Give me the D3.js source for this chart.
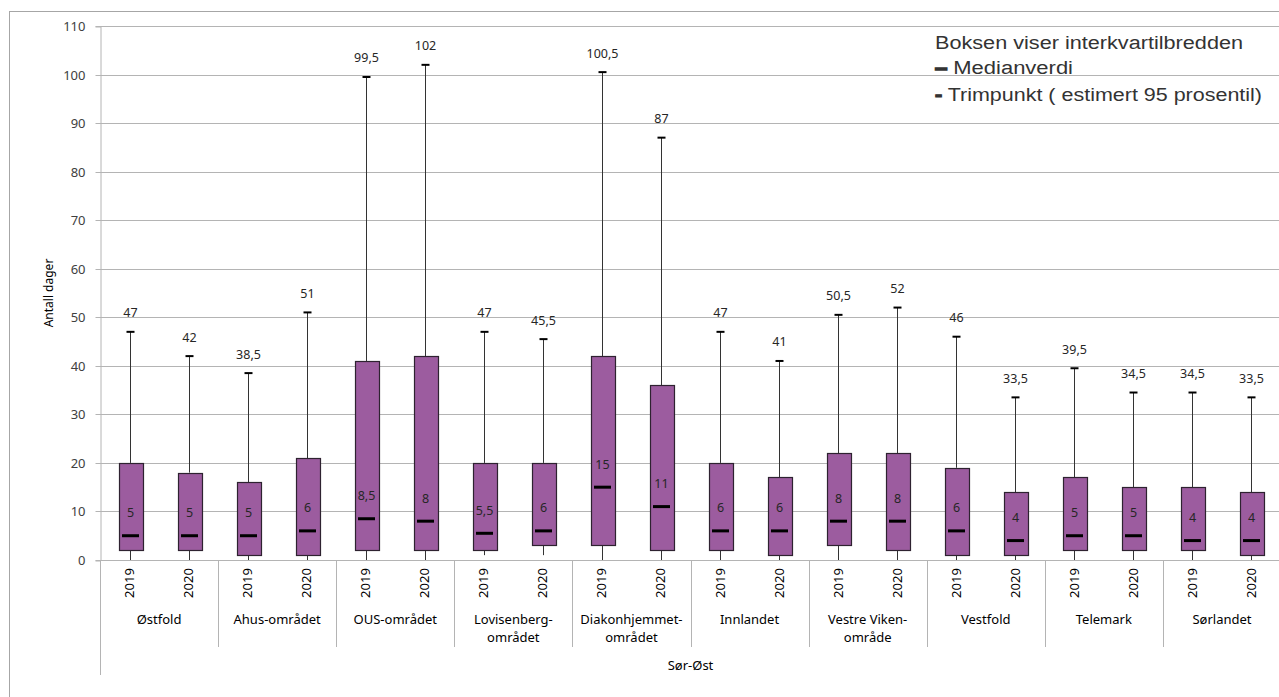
<!DOCTYPE html>
<html>
<head>
<meta charset="utf-8">
<script src="https://cdn.jsdelivr.net/npm/d3@7/dist/d3.min.js"></script>
<style>
  html, body { margin: 0; padding: 0; background: #fff; }
  svg { display: block; }
</style>
</head>
<body>
<svg id="chart" width="1279" height="697"></svg>
<script>
// ---- Data ----
const groupLabels = [
  ["Østfold"], ["Ahus-området"], ["OUS-området"], ["Lovisenberg-", "området"],
  ["Diakonhjemmet-", "området"], ["Innlandet"], ["Vestre Viken-", "område"],
  ["Vestfold"], ["Telemark"], ["Sørlandet"]
];
const years = ["2019", "2020"];
const q1Values     = [2, 2, 1, 1, 2, 2, 2, 3, 3, 2, 2, 1, 3, 2, 1, 1, 2, 2, 2, 1];
const q3Values     = [20, 18, 16, 21, 41, 42, 20, 20, 42, 36, 20, 17, 22, 22, 19, 14, 17, 15, 15, 14];
const medianValues = [5, 5, 5, 6, 8.5, 8, 5.5, 6, 15, 11, 6, 6, 8, 8, 6, 4, 5, 5, 4, 4];
const maxValues    = [47, 42, 38.5, 51, 99.5, 102, 47, 45.5, 100.5, 87, 47, 41, 50.5, 52, 46, 33.5, 39.5, 34.5, 34.5, 33.5];
const minValues    = [0, 0, 0, 0, 0, 0, 1, 1, 0, 0, 0, 0, 0, 0, 0, 0, 0, 0, 0, 0];
const yTicks = [0, 10, 20, 30, 40, 50, 60, 70, 80, 90, 100, 110];
const yTitle = "Antall dager";
const xTitle = "Sør-Øst";
const legendLines = ["Boksen viser interkvartilbredden", "Medianverdi", "Trimpunkt ( estimert 95 prosentil)"];

// ---- Build rows ----
const rows = [];
groupLabels.forEach((g, gi) => {
  years.forEach((yr, yi) => {
    const i = gi * 2 + yi;
    rows.push({ key: gi + "_" + yr, group: gi, year: yr, q1: q1Values[i], q3: q3Values[i],
      med: medianValues[i], max: maxValues[i], min: minValues[i] });
  });
});

const fmt = v => String(v).replace(".", ",");

const svg = d3.select("#chart");
const pLeft = 100, pRight = 1281, pTop = 26, pBottom = 560;

// outer chart border
svg.append("rect").attr("x", 9.5).attr("y", 11.5).attr("width", 1300).attr("height", 720)
  .attr("fill", "none").attr("stroke", "#a6a6a6").attr("stroke-width", 1);

const y = d3.scaleLinear().domain([0, 110]).range([pBottom, pTop]);
const x = d3.scaleBand().domain(rows.map(r => r.key)).range([pLeft, pRight]).padding(0);
const xg = d3.scaleBand().domain(groupLabels.map((g, i) => i)).range([pLeft, pRight]).padding(0);

// gridlines
svg.append("g").selectAll("line").data(yTicks.filter(t => t > 0)).join("line")
  .attr("x1", pLeft).attr("x2", pRight)
  .attr("y1", d => Math.round(y(d)) + 0.5).attr("y2", d => Math.round(y(d)) + 0.5)
  .attr("stroke", "#b4b4b4").attr("stroke-width", 1);

// y axis
const yAxis = svg.append("g").attr("transform", `translate(${pLeft + 0.5},0.5)`)
  .call(d3.axisLeft(y).tickValues(yTicks).tickSize(5).tickPadding(10).tickFormat(d => d));
yAxis.select(".domain").attr("stroke", "#b4b4b4");
yAxis.selectAll(".tick line").attr("stroke", "#b4b4b4");
yAxis.selectAll(".tick text").attr("font-family", "Noto Sans, sans-serif").attr("font-size", 13)
  .attr("fill", "#404040");
yAxis.selectAll(".tick").attr("transform", d => `translate(0,${Math.round(y(d))})`);

// y title
svg.append("text").attr("transform", `translate(53,293) rotate(-90)`)
  .attr("text-anchor", "middle").attr("font-family", "Noto Sans, sans-serif").attr("font-size", 12)
  .attr("fill", "#000").text(yTitle);

// x axis baseline
svg.append("line").attr("x1", pLeft).attr("x2", pRight).attr("y1", pBottom + 0.5).attr("y2", pBottom + 0.5)
  .attr("stroke", "#b4b4b4");
// left axis extension down
svg.append("line").attr("x1", pLeft + 0.5).attr("x2", pLeft + 0.5).attr("y1", pBottom).attr("y2", 675)
  .attr("stroke", "#b4b4b4");
// group separators
svg.append("g").selectAll("line").data(groupLabels.map((g, i) => i).slice(1)).join("line")
  .attr("x1", d => Math.round(xg(d)) + 0.5).attr("x2", d => Math.round(xg(d)) + 0.5)
  .attr("y1", pBottom).attr("y2", 647).attr("stroke", "#b4b4b4");

// year labels
svg.append("g").selectAll("text").data(rows).join("text")
  .attr("transform", d => `translate(${x(d.key) + x.bandwidth() / 2 + 4.5},583) rotate(-90)`)
  .attr("text-anchor", "middle").attr("font-family", "Noto Sans, sans-serif").attr("font-size", 13)
  .attr("fill", "#000").text(d => d.year);

// group labels
const gl = svg.append("g").selectAll("text").data(groupLabels).join("text")
  .attr("x", (d, i) => xg(i) + xg.bandwidth() / 2).attr("y", 624)
  .attr("text-anchor", "middle").attr("font-family", "Noto Sans, sans-serif").attr("font-size", 13)
  .attr("fill", "#000");
gl.selectAll("tspan").data(d => d).join("tspan")
  .attr("x", function () { return d3.select(this.parentNode).attr("x"); })
  .attr("dy", (d, i) => i === 0 ? 0 : 18).text(d => d);

// x title
svg.append("text").attr("x", (pLeft + pRight) / 2).attr("y", 670).attr("text-anchor", "middle")
  .attr("font-family", "Noto Sans, sans-serif").attr("font-size", 13).attr("fill", "#000").text(xTitle);

// boxes
const bw = x.bandwidth() * 0.4;
const cx = d => Math.round(x(d.key) + x.bandwidth() / 2) + 0.5;
const bx = svg.append("g");
// whiskers
bx.selectAll("line.up").data(rows).join("line").attr("class", "up")
  .attr("x1", cx).attr("x2", cx).attr("y1", d => y(d.q3)).attr("y2", d => y(d.max))
  .attr("stroke", "#333").attr("stroke-width", 1);
bx.selectAll("line.down").data(rows).join("line").attr("class", "down")
  .attr("x1", cx).attr("x2", cx).attr("y1", d => y(d.q1)).attr("y2", d => y(d.min))
  .attr("stroke", "#333").attr("stroke-width", 1);
// caps
bx.selectAll("line.cap").data(rows).join("line").attr("class", "cap")
  .attr("x1", d => cx(d) - 4).attr("x2", d => cx(d) + 4).attr("y1", d => y(d.max)).attr("y2", d => y(d.max))
  .attr("stroke", "#000").attr("stroke-width", 2);
// box rect
bx.selectAll("rect").data(rows).join("rect")
  .attr("x", d => Math.round(cx(d) - bw / 2) + 0.5).attr("width", Math.round(bw))
  .attr("y", d => Math.round(y(d.q3)) + 0.5).attr("height", d => Math.round(y(d.q1)) - Math.round(y(d.q3)))
  .attr("fill", "#9c5c9f").attr("stroke", "#2e2230").attr("stroke-width", 1.2);
// median bars
bx.selectAll("line.med").data(rows).join("line").attr("class", "med")
  .attr("x1", d => cx(d) - 8.5).attr("x2", d => cx(d) + 8.5).attr("y1", d => y(d.med)).attr("y2", d => y(d.med))
  .attr("stroke", "#000").attr("stroke-width", 3);
// median labels
bx.selectAll("text.medl").data(rows).join("text").attr("class", "medl")
  .attr("x", cx).attr("y", d => y(d.med) - 18.5).attr("text-anchor", "middle")
  .attr("font-family", "Noto Sans, sans-serif").attr("font-size", 12.5).attr("fill", "#262626")
  .text(d => fmt(d.med));
// max labels
bx.selectAll("text.maxl").data(rows).join("text").attr("class", "maxl")
  .attr("x", cx).attr("y", d => y(d.max) - 14.5).attr("text-anchor", "middle")
  .attr("font-family", "Noto Sans, sans-serif").attr("font-size", 12.5).attr("fill", "#262626")
  .text(d => fmt(d.max));

// legend
const lg = svg.append("g").attr("font-family", "Liberation Sans, Arial, sans-serif").attr("fill", "#333");
lg.append("text").attr("x", 935).attr("y", 49).attr("font-size", 18)
  .attr("textLength", 308).attr("lengthAdjust", "spacingAndGlyphs").text(legendLines[0]);
const l2 = lg.append("text").attr("x", 935).attr("y", 74).attr("font-size", 18)
  .attr("textLength", 138).attr("lengthAdjust", "spacingAndGlyphs");
l2.append("tspan").attr("font-weight", "bold").attr("stroke", "#333").attr("stroke-width", 1.6).text("–");
l2.append("tspan").text(" " + legendLines[1]);
const l3 = lg.append("text").attr("x", 935).attr("y", 101).attr("font-size", 18)
  .attr("textLength", 327).attr("lengthAdjust", "spacingAndGlyphs");
l3.append("tspan").attr("font-weight", "bold").attr("stroke", "#333").attr("stroke-width", 1.2).text("-");
l3.append("tspan").text(" " + legendLines[2]);
</script>
</body>
</html>
